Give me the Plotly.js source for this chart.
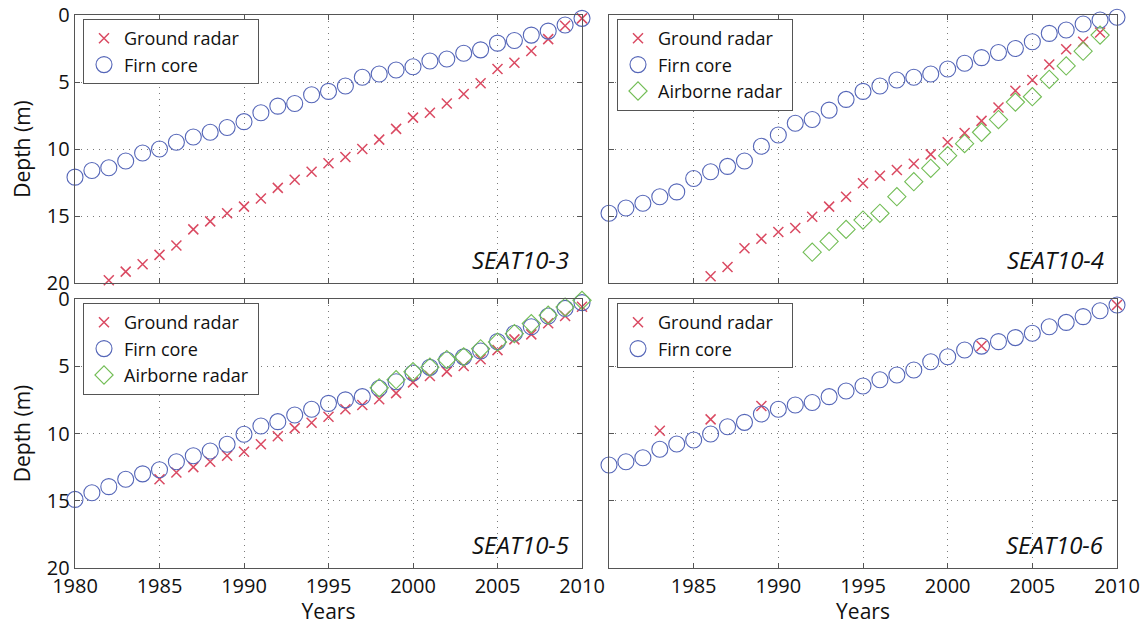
<!DOCTYPE html>
<html>
<head>
<meta charset="utf-8">
<script src="https://cdn.plot.ly/plotly-3.0.1.min.js"></script>
<style>html,body{margin:0;padding:0;background:#fff;}#chart{width:1148px;height:625px;}</style>
</head>
<body>
<div id="chart"></div>
<script>
// ---------- data ----------
const yearsFull = [1980,1981,1982,1983,1984,1985,1986,1987,1988,1989,1990,1991,1992,1993,1994,1995,1996,1997,1998,1999,2000,2001,2002,2003,2004,2005,2006,2007,2008,2009,2010];

// SEAT10-3
const gr1Years = [1982,1983,1984,1985,1986,1987,1988,1989,1990,1991,1992,1993,1994,1995,1996,1997,1998,1999,2000,2001,2002,2003,2004,2005,2006,2007,2008,2009,2010];
const gr1Depth = [19.8,19.15,18.6,17.9,17.2,16.0,15.4,14.8,14.3,13.7,12.9,12.3,11.7,11.07,10.6,10.0,9.3,8.5,7.66,7.3,6.6,5.9,5.1,4.03,3.56,2.69,1.8,0.8,0.25];
const fc1Depth = [12.1,11.6,11.4,10.9,10.3,10.0,9.5,9.1,8.75,8.4,7.96,7.3,6.8,6.6,5.95,5.7,5.3,4.65,4.4,4.1,3.86,3.43,3.28,2.86,2.6,2.1,1.9,1.5,1.2,0.75,0.25];

// SEAT10-4
const gr2Years = [1986,1987,1988,1989,1990,1991,1992,1993,1994,1995,1996,1997,1998,1999,2000,2001,2002,2003,2004,2005,2006,2007,2008,2009];
const gr2Depth = [19.5,18.8,17.4,16.7,16.2,15.9,15.05,14.3,13.56,12.56,12.0,11.57,11.1,10.4,9.5,8.8,7.9,6.9,5.65,4.85,3.7,2.56,2.0,1.3];
const fc2Depth = [14.8,14.4,14.05,13.56,13.2,12.2,11.7,11.3,10.9,9.8,8.96,8.08,7.8,7.1,6.3,5.7,5.3,4.85,4.65,4.4,4.03,3.6,3.18,2.8,2.5,2.0,1.37,1.12,0.67,0.37,0.17];
const ab2Years = [1992,1993,1994,1995,1996,1997,1998,1999,2000,2001,2002,2003,2004,2005,2006,2007,2008,2009];
const ab2Depth = [17.7,16.9,16.0,15.3,14.8,13.56,12.44,11.44,10.5,9.6,8.75,7.8,6.5,6.1,4.8,3.8,2.7,1.5];

// SEAT10-5
const gr3Years = [1985,1986,1987,1988,1989,1990,1991,1992,1993,1994,1995,1996,1997,1998,1999,2000,2001,2002,2003,2004,2005,2006,2007,2008,2009,2010];
const gr3Depth = [13.4,12.9,12.5,12.1,11.65,11.35,10.8,10.2,9.6,9.2,8.75,8.2,7.88,7.46,7.0,6.2,5.72,5.4,4.98,4.48,3.8,3.0,2.63,1.8,1.26,0.57];
const fc3Depth = [14.9,14.4,13.95,13.4,13.0,12.7,12.1,11.65,11.3,10.8,10.06,9.44,9.12,8.62,8.2,7.76,7.5,7.26,6.64,6.15,5.5,5.08,4.54,4.3,3.87,3.17,2.55,2.06,1.26,0.7,0.27];
const ab3Years = [1998,1999,2000,2001,2002,2003,2004,2005,2006,2007,2008,2009,2010];
const ab3Depth = [6.6,6.0,5.4,5.07,4.5,4.3,3.7,3.2,2.58,1.83,1.2,0.6,0.1];

// SEAT10-6
const gr4Years = [1983,1986,1989,2002,2010];
const gr4Depth = [9.8,8.95,7.96,3.5,0.45];
const fc4Depth = [12.34,12.1,11.8,11.17,10.78,10.48,10.04,9.5,9.17,8.55,8.2,7.88,7.7,7.26,6.84,6.47,6.0,5.65,5.28,4.66,4.29,3.79,3.5,3.17,2.87,2.55,2.06,1.74,1.31,0.87,0.45];

const panelNames = ['SEAT10-3','SEAT10-4','SEAT10-5','SEAT10-6'];
const seriesNames = ['Ground radar','Firn core','Airborne radar'];
const xTickVals = [1980,1985,1990,1995,2000,2005,2010];
const xTickValsRight = [1985,1990,1995,2000,2005,2010];
const yTickVals = [0,5,10,15,20];

// ---------- styles ----------
const RED = '#da4a62', BLUE = '#5566b8', GREEN = '#72bd55';
const FONT = 'Open Sans, Noto Sans, DejaVu Sans, sans-serif';
const NB = '\u00a0';

function ax(n) { return n === 1 ? '' : String(n); }
function gr(x, y, n, leg, pad) {
  return {x: x, y: y, xaxis: 'x' + ax(n), yaxis: 'y' + ax(n),
    type: 'scatter', mode: 'markers', name: seriesNames[0] + pad, legend: leg, cliponaxis: false,
    marker: {symbol: 'x-thin-open', size: 10, color: RED, line: {color: RED, width: 1.5}}};
}
function fc(x, y, n, leg) {
  return {x: x, y: y, xaxis: 'x' + ax(n), yaxis: 'y' + ax(n),
    type: 'scatter', mode: 'markers', name: seriesNames[1], legend: leg, cliponaxis: false,
    marker: {symbol: 'circle-open', size: 16, color: BLUE, line: {color: BLUE, width: 1.1}}};
}
function ab(x, y, n, leg, pad) {
  return {x: x, y: y, xaxis: 'x' + ax(n), yaxis: 'y' + ax(n),
    type: 'scatter', mode: 'markers', name: seriesNames[2] + pad, legend: leg, cliponaxis: false,
    marker: {symbol: 'diamond-open', size: 14, color: GREEN, line: {color: GREEN, width: 1.1}}};
}

const data = [
  gr(gr1Years, gr1Depth, 1, 'legend', NB + NB + NB), fc(yearsFull, fc1Depth, 1, 'legend'),
  gr(gr2Years, gr2Depth, 2, 'legend2', ''), fc(yearsFull, fc2Depth, 2, 'legend2'), ab(ab2Years, ab2Depth, 2, 'legend2', NB),
  gr(gr3Years, gr3Depth, 3, 'legend3', ''), fc(yearsFull, fc3Depth, 3, 'legend3'), ab(ab3Years, ab3Depth, 3, 'legend3', NB),
  gr(gr4Years, gr4Depth, 4, 'legend4', NB + NB + NB), fc(yearsFull, fc4Depth, 4, 'legend4')
];

const W = 1148, H = 625;
const xL = [75 / W, 582 / W], xR = [609 / W, 1117 / W];
const yT = [1 - 283 / H, 1 - 15 / H], yB = [1 - 568 / H, 1 - 299 / H];

function common() {
  return {ticks: 'inside', ticklen: 5, tickcolor: '#555',
    showline: true, mirror: 'ticks', linecolor: '#555', linewidth: 1.3,
    showgrid: true, gridcolor: '#7a7a7a', griddash: '1px,5px', gridwidth: 1, zeroline: false,
    tickfont: {size: 20, color: '#111'}};
}
function xax(domain, showLabels, anchor, vals, title) {
  return Object.assign(common(), {domain: domain, range: [1980, 2010], anchor: anchor, tickmode: 'array', tickvals: vals,
    showticklabels: showLabels,
    title: title ? {text: title, font: {size: 21, color: '#111'}, standoff: 0} : {text: ''}});
}
function yax(domain, showLabels, anchor, title) {
  return Object.assign(common(), {domain: domain, range: [20, 0], anchor: anchor, tickmode: 'array', tickvals: yTickVals,
    showticklabels: showLabels,
    title: title ? {text: title, font: {size: 21, color: '#111'}, standoff: 10} : {text: ''}});
}
function leg(x, y) {
  return {x: x, y: y, xanchor: 'left', yanchor: 'top', xref: 'paper', yref: 'paper',
    bgcolor: '#fff', bordercolor: '#555', borderwidth: 1, font: {size: 18, color: '#111'},
    tracegroupgap: 0, itemwidth: 30};
}

const annotations = panelNames.map((t, i) => ({
  text: '<i>' + t + '</i>', showarrow: false,
  xref: 'x' + ax(i + 1) + ' domain', yref: 'y' + ax(i + 1) + ' domain',
  x: 0.978, y: 0.02, xanchor: 'right', yanchor: 'bottom',
  font: {size: 24, color: '#111'}
}));

const layout = {
  width: W, height: H, margin: {l: 0, r: 0, t: 0, b: 0, autoexpand: false},
  paper_bgcolor: '#fff', plot_bgcolor: '#fff',
  font: {family: FONT, size: 18, color: '#111'},
  showlegend: true,
  xaxis: xax(xL, false, 'y', xTickVals, ''),
  yaxis: yax(yT, true, 'x', 'Depth (m)'),
  xaxis2: xax(xR, false, 'y2', xTickVals, ''),
  yaxis2: yax(yT, false, 'x2', ''),
  xaxis3: xax(xL, true, 'y3', xTickVals, 'Years'),
  yaxis3: yax(yB, true, 'x3', 'Depth (m)'),
  xaxis4: xax(xR, true, 'y4', xTickValsRight, 'Years'),
  yaxis4: yax(yB, false, 'x4', ''),
  legend: leg(83 / W, 1 - 19 / H),
  legend2: leg(617 / W, 1 - 19 / H),
  legend3: leg(83 / W, 1 - 303 / H),
  legend4: leg(617 / W, 1 - 303 / H),
  annotations: annotations
};

Plotly.newPlot('chart', data, layout, {staticPlot: true, displayModeBar: false});
</script>
</body>
</html>
